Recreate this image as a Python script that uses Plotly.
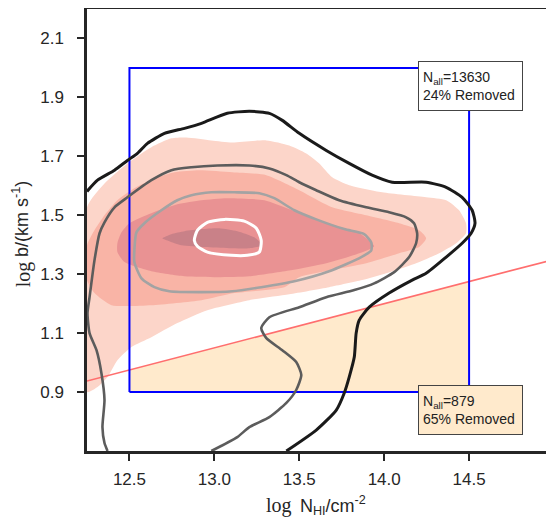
import numpy as np
import plotly.graph_objects as go

# ---- axis / tick data ----
x_ticks = [12.5, 13.0, 13.5, 14.0, 14.5]
x_tick_labels = ["12.5", "13.0", "13.5", "14.0", "14.5"]
y_ticks = [0.9, 1.1, 1.3, 1.5, 1.7, 1.9, 2.1]
y_tick_labels = ["0.9", "1.1", "1.3", "1.5", "1.7", "1.9", "2.1"]

# selection box (log N, log b)
box_x = [12.5, 14.5]
box_y = [0.9, 2.0]

# b-N cut line: log b = slope * log N + intercept
cut_slope = 0.15
cut_intercept = -0.9
cut_x = [12.25, 15.0]

# ---- filled density contours (outer -> inner) ----
fill1_x = [12.25, 12.353, 12.488, 12.629, 12.747, 12.835, 12.982, 13.106, 13.306, 13.441, 13.541, 13.618,
           13.694, 13.794, 13.988, 14.247, 14.365, 14.441, 14.482, 14.482, 14.424, 14.324, 14.188, 14.012,
           13.871, 13.676, 13.441, 13.206, 12.959, 12.782, 12.629, 12.512, 12.429, 12.371, 12.312, 12.25]
fill1_y = [1.527, 1.608, 1.676, 1.731, 1.761, 1.764, 1.754, 1.747, 1.754, 1.737, 1.710, 1.676,
           1.629, 1.602, 1.578, 1.561, 1.551, 1.517, 1.473, 1.439, 1.405, 1.371, 1.337, 1.303,
           1.280, 1.256, 1.232, 1.212, 1.178, 1.134, 1.086, 1.053, 1.008, 0.951, 0.917, 0.900]

fill2_x = [12.25, 12.294, 12.353, 12.429, 12.529, 12.647, 12.765, 12.912, 13.106, 13.306, 13.5, 13.694,
           13.894, 14.088, 14.206, 14.247, 14.206, 14.088, 13.894, 13.694, 13.5, 13.412, 13.118, 12.924,
           12.629, 12.394, 12.294, 12.25]
fill2_y = [1.398, 1.449, 1.500, 1.551, 1.592, 1.625, 1.646, 1.653, 1.646, 1.636, 1.585, 1.527,
           1.500, 1.473, 1.449, 1.422, 1.392, 1.371, 1.337, 1.314, 1.290, 1.256, 1.236, 1.212,
           1.195, 1.195, 1.236, 1.280]

fill3_x = [12.429, 12.453, 12.5, 12.629, 12.782, 12.924, 13.076, 13.294, 13.459, 13.659, 13.853, 13.941,
           13.853, 13.659, 13.459, 13.206, 13.018, 12.824, 12.629, 12.471, 12.429]
fill3_y = [1.405, 1.442, 1.473, 1.507, 1.537, 1.551, 1.558, 1.551, 1.517, 1.473, 1.439, 1.395,
           1.371, 1.337, 1.314, 1.293, 1.290, 1.293, 1.310, 1.341, 1.375]

fill4_x = [12.694, 12.747, 12.824, 12.924, 13.029, 13.135, 13.235, 13.282, 13.206, 13.088, 12.941, 12.806, 12.735]
fill4_y = [1.422, 1.436, 1.446, 1.453, 1.456, 1.446, 1.425, 1.398, 1.388, 1.388, 1.392, 1.398, 1.412]

fill_colors = ["#FCD5C9", "#F9B4A6", "#E99293", "#C98188"]

# ---- contour lines of the second sample ----
black_x = [12.25, 12.312, 12.412, 12.488, 12.547, 12.606, 12.706, 12.824, 12.924, 13.076, 13.206, 13.324,
           13.400, 13.5, 13.659, 13.794, 13.929, 14.047, 14.247, 14.365, 14.459, 14.518, 14.535, 14.512,
           14.459, 14.365, 14.247, 14.165, 14.029, 13.912, 13.853, 13.835, 13.824, 13.794, 13.765, 13.718,
           13.6, 13.424]
black_y = [1.581, 1.619, 1.653, 1.686, 1.710, 1.744, 1.778, 1.795, 1.812, 1.846, 1.853, 1.846,
           1.822, 1.778, 1.720, 1.676, 1.636, 1.612, 1.612, 1.595, 1.561, 1.517, 1.473, 1.439,
           1.405, 1.358, 1.303, 1.280, 1.236, 1.188, 1.144, 1.100, 1.019, 0.951, 0.897, 0.839,
           0.771, 0.700]

dgrey_x = [12.371, 12.353, 12.341, 12.353, 12.335, 12.306, 12.265, 12.253, 12.265, 12.294, 12.324, 12.353,
           12.412, 12.488, 12.629, 12.747, 12.865, 13.018, 13.206, 13.324, 13.424, 13.5, 13.6, 13.735,
           13.894, 14.029, 14.129, 14.176, 14.194, 14.188, 14.147, 14.059, 13.941, 13.824, 13.659, 13.5,
           13.324, 13.276, 13.306, 13.4, 13.482, 13.512, 13.482, 13.424, 13.324, 13.206, 13.135, 12.982]
dgrey_y = [0.700, 0.727, 0.781, 0.873, 0.964, 1.042, 1.100, 1.168, 1.222, 1.347, 1.439, 1.476,
           1.527, 1.561, 1.619, 1.653, 1.663, 1.669, 1.669, 1.659, 1.636, 1.612, 1.585, 1.551,
           1.527, 1.510, 1.493, 1.473, 1.439, 1.405, 1.358, 1.307, 1.269, 1.246, 1.222, 1.188,
           1.154, 1.117, 1.083, 1.042, 1.002, 0.958, 0.907, 0.863, 0.815, 0.781, 0.747, 0.700]

lgrey_x = [12.529, 12.541, 12.588, 12.688, 12.782, 12.865, 12.982, 13.118, 13.265, 13.353, 13.471, 13.6,
           13.765, 13.882, 13.924, 13.924, 13.865, 13.676, 13.471, 13.276, 13.106, 12.912, 12.735, 12.647,
           12.571, 12.529, 12.529]
lgrey_y = [1.381, 1.442, 1.473, 1.517, 1.551, 1.568, 1.578, 1.578, 1.575, 1.558, 1.517, 1.486,
           1.453, 1.436, 1.408, 1.381, 1.358, 1.310, 1.276, 1.256, 1.242, 1.239, 1.242, 1.256,
           1.286, 1.341, 1.381]

white_x = [12.882, 12.9, 12.959, 13.059, 13.176, 13.247, 13.276, 13.265, 13.194, 13.1, 12.959, 12.9, 12.882]
white_y = [1.415, 1.449, 1.476, 1.486, 1.480, 1.456, 1.415, 1.375, 1.364, 1.364, 1.375, 1.395, 1.415]

# texts
labels_top = "N<sub>all</sub>=13630<br>24% Removed"
labels_bottom = "N<sub>all</sub>=879<br>65% Removed"
x_title_log = "log"
x_title_rest = "N<sub>HI</sub>/cm<sup>-2</sup>"
y_title_log = "log"
y_title_rest = "b/(km s<sup>-1</sup>)"

fig = go.Figure()

# removed region (below cut, inside box)
cut_box_y = [cut_slope * v + cut_intercept for v in box_x]
fig.add_trace(go.Scatter(
    x=[box_x[0], box_x[0], box_x[1], box_x[1], box_x[0]],
    y=[box_y[0], cut_box_y[0], cut_box_y[1], box_y[0], box_y[0]],
    fill="toself", fillcolor="#FFEACC", line=dict(width=0), mode="lines",
    hoverinfo="skip", showlegend=False))

for fx, fy, c in zip([fill1_x, fill2_x, fill3_x, fill4_x], [fill1_y, fill2_y, fill3_y, fill4_y], fill_colors):
    fig.add_trace(go.Scatter(x=fx + [fx[0]], y=fy + [fy[0]], fill="toself", fillcolor=c,
                             line=dict(width=0, shape="spline", smoothing=0.6), mode="lines",
                             hoverinfo="skip", showlegend=False))

# cut line
fig.add_trace(go.Scatter(x=cut_x, y=[cut_slope * v + cut_intercept for v in cut_x], mode="lines",
                         line=dict(color="#FF6E6E", width=1.6), hoverinfo="skip", showlegend=False))

# box
fig.add_trace(go.Scatter(x=[box_x[0], box_x[0], box_x[1], box_x[1], box_x[0]],
                         y=[box_y[0], box_y[1], box_y[1], box_y[0], box_y[0]], mode="lines",
                         line=dict(color="#0000FF", width=2), hoverinfo="skip", showlegend=False))

# contour lines
for lx, ly, c, w in [(black_x, black_y, "#1A1A1A", 3), (dgrey_x, dgrey_y, "#5C5C5C", 2.6),
                     (lgrey_x, lgrey_y, "#A3A3A3", 2.6), (white_x, white_y, "#FFFFFF", 3)]:
    fig.add_trace(go.Scatter(x=lx, y=ly, mode="lines",
                             line=dict(color=c, width=w, shape="spline", smoothing=0.6),
                             hoverinfo="skip", showlegend=False))

ann_font = dict(family="Liberation Sans, Arial", size=14, color="#222222")
fig.add_annotation(x=14.2, y=2.022, xref="x", yref="y", xanchor="left", yanchor="top",
                   text=labels_top, showarrow=False, align="left", bgcolor="#FFFFFF",
                   bordercolor="#444444", borderwidth=1, borderpad=4, width=95, height=40,
                   font=ann_font)
fig.add_annotation(x=14.2, y=0.924, xref="x", yref="y", xanchor="left", yanchor="top",
                   text=labels_bottom, showarrow=False, align="left", bgcolor="#FFEACC",
                   bordercolor="#444444", borderwidth=1, borderpad=4, width=95, height=40,
                   font=ann_font)

# axis titles: serif "log" + sans rest
serif_font = dict(family="Liberation Serif, Times New Roman, serif", size=20, color="#262626")
sans_font = dict(family="Liberation Sans, Arial", size=18, color="#262626")
fig.add_annotation(x=0.442, y=-0.124, xref="paper", yref="paper", xanchor="right", yanchor="middle",
                   text=x_title_log, showarrow=False, font=serif_font, borderpad=0)
fig.add_annotation(x=0.453, y=-0.124, xref="paper", yref="paper", xanchor="left", yanchor="middle",
                   text=x_title_rest, showarrow=False, font=sans_font, borderpad=0)
fig.add_annotation(x=-0.137, y=0.368, xref="paper", yref="paper", xanchor="center", yanchor="bottom",
                   text=y_title_log, showarrow=False, font=serif_font, textangle=-90, borderpad=0)
fig.add_annotation(x=-0.141, y=0.437, xref="paper", yref="paper", xanchor="center", yanchor="bottom",
                   text=y_title_rest, showarrow=False, font=sans_font, textangle=-90, borderpad=0)

axis_font = dict(family="Liberation Sans, Arial", size=17, color="#262626")
fig.update_layout(
    width=546, height=511,
    margin=dict(l=79, r=0, t=1, b=68, autoexpand=False),
    paper_bgcolor="white", plot_bgcolor="white",
    xaxis=dict(range=[12.25, 15.0], tickvals=x_ticks, ticktext=x_tick_labels, automargin=False,
               showgrid=False, zeroline=False, showline=True, linecolor="#262626", linewidth=2.5,
               mirror=True, ticks="outside", ticklen=7, tickwidth=1.5, tickcolor="#262626",
               tickfont=axis_font, ticklabelstandoff=4),
    yaxis=dict(range=[0.7, 2.2], tickvals=y_ticks, ticktext=y_tick_labels, automargin=False,
               showgrid=False, zeroline=False, showline=True, linecolor="#262626", linewidth=2.5,
               mirror=False, ticks="outside", ticklen=7, tickwidth=1.5, tickcolor="#262626",
               tickfont=axis_font, ticklabelstandoff=10),
)

fig.write_html("out.html")
